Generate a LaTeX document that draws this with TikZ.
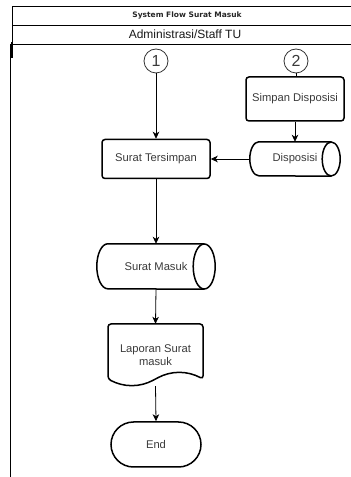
\documentclass[tikz,border=0pt]{standalone}
\usepackage{fontspec}
\setmainfont{Liberation Sans}
\newfontfamily\headfont{DejaVu Sans}
\usetikzlibrary{arrows.meta}
\definecolor{txt}{HTML}{3A3A3A}
% horizontal cylinder outline: node name, x radius of the ends, half height
\newcommand\cylinderoutline[3]{%
  \draw[shp, rounded corners=0pt]
    ([xshift=-#2]#1.north east) -- ([xshift=#2]#1.north west)
    arc[start angle=90, end angle=270, x radius=#2, y radius=#3]
    -- ([xshift=-#2]#1.south east);
  \draw[shp, rounded corners=0pt] ([xshift=-#2]#1.east) ellipse[x radius=#2, y radius=#3];
}
\begin{document}
\begin{tikzpicture}[x=1pt, y=1pt,
  frame/.style={line width=0.9pt},
  shp/.style={line width=1.5pt, rounded corners=3pt},
  lbl/.style={font=\fontsize{11.2}{13.5}\selectfont, text=txt, align=center, inner sep=0pt},
  flow/.style={line width=0.8pt, -{Stealth[length=7pt, width=6.5pt, inset=2pt]}},
  conn/.style={circle, draw=black!80, line width=0.8pt, minimum size=24pt, inner sep=0pt,
    font=\fontsize{16}{16}\selectfont, text=txt},
  procbox/.style={draw, shp, lbl}
]
\useasboundingbox (0,0) rectangle (351,477);

% pool header and lane frame
\draw[frame] (351,471) -- (12,471) -- (12,433);
\draw[frame] (12,452) -- (351,452);
\draw[frame] (12,433) -- (351,433);
\draw[frame] (10.5,433) -- (10.5,0);
\draw[line width=2pt] (11.5,435) -- (11.5,419);

\node[font=\headfont\bfseries\fontsize{7.5}{9}\selectfont, text=black!85] (title) at (187,461.5) {System Flow Surat Masuk};
\node[font=\fontsize{12}{14}\selectfont, text=black!90] (lane) at (185,442.5) {Administrasi/Staff TU};

% off-page connectors
\node[conn] (c1) at (156,416) {1};
\node[conn] (c2) at (296,416) {2};

% process boxes
\node[procbox, minimum width=98pt, minimum height=44pt] (simpan) at (295,378) {Simpan Disposisi};
\node[procbox, minimum width=108pt, minimum height=39pt] (tersimpan) at (156,318) {Surat Tersimpan};

% stored data (cylinders)
\node[lbl, minimum width=90pt, minimum height=34pt] (disp) at (295,318) {Disposisi};
\cylinderoutline{disp}{9pt}{17pt}
\node[lbl, minimum width=118pt, minimum height=45pt] (masuk) at (156,210.5) {Surat Masuk};
\cylinderoutline{masuk}{11pt}{22.5pt}

% document
\node[lbl, minimum width=95pt, minimum height=62pt] (lap) at (155.5,122) {Laporan Surat\\masuk};
\draw[shp] (108,98) -- (108,153) -- (203,153) -- (203,98)
  .. controls (187.17,106.4) and (171.33,106.4) .. (155.5,98)
  .. controls (139.67,89.6) and (123.83,89.6) .. (108,98) -- cycle;

% terminator
\node[procbox, rounded corners=22.5pt, minimum width=90pt, minimum height=45pt] (end) at (156,32.5) {End};

% connectors
\draw[line width=0.8pt] (c2.south) -- (c2.south |- simpan.north);
\draw[flow] (c1.south) -- (tersimpan.north);
\draw[flow] (simpan.south) -- (disp.north);
\draw[flow] (disp.west) -- (tersimpan.east);
\draw[flow] (tersimpan.south) -- (masuk.north);
\draw[flow] (masuk.south) -- (lap.north);
\draw[flow] (lap.south) -- (end.north);
\end{tikzpicture}
\end{document}
